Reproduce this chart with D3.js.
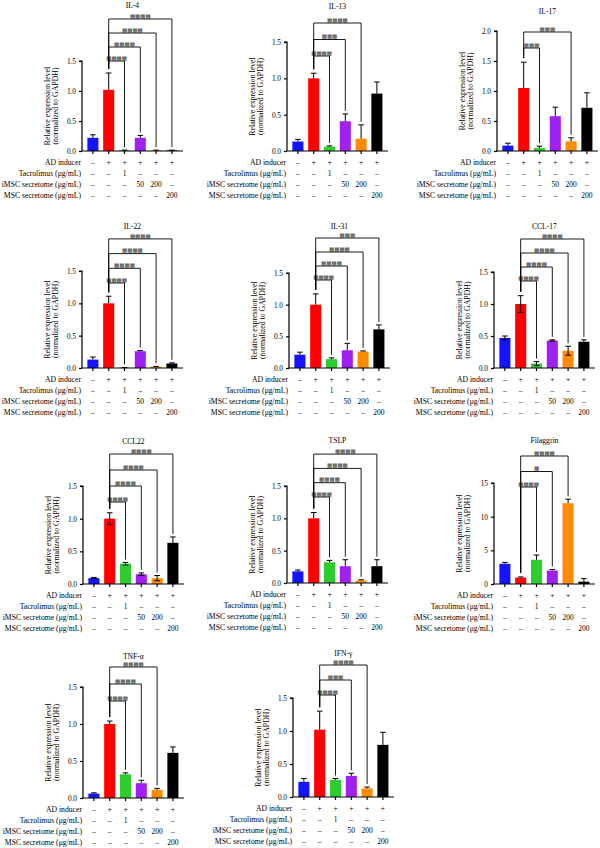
<!DOCTYPE html>
<html>
<head>
<meta charset="utf-8">
<title>AD markers</title>
<script src="https://d3js.org/d3.v7.min.js"></script>
<style>
body { margin:0; background:#fff; }
text { font-family:"Liberation Serif","DejaVu Serif",serif; fill:#000; }
.sig { font-family:"DejaVu Sans",sans-serif; fill:#3a3a3a; }
</style>
</head>
<body>
<script>
// values
var genes = ["IL-4","IL-13","IL-17","IL-22","IL-31","CCL-17","CCL22","TSLP","Filaggrin","TNF-\u03b1","IFN-\u03b3"];
var groups = ["ctrl","AD","tac","imsc50","imsc200","msc200"];
var colors = ["#1414ff","#ff0000","#2ecc2e","#a020f0","#ff8c00","#000000"];

var means = [
  [0.22,1.02,0.01,0.22,0.01,0.01],
  [0.13,1.00,0.06,0.41,0.17,0.79],
  [0.09,1.05,0.05,0.58,0.16,0.72],
  [0.13,1.00,0.005,0.26,0.02,0.07],
  [0.21,1.00,0.14,0.28,0.26,0.61],
  [0.47,1.00,0.07,0.43,0.27,0.41],
  [0.09,1.00,0.31,0.15,0.09,0.63],
  [0.18,1.00,0.32,0.26,0.04,0.26],
  [3.0,0.95,3.6,2.0,12.0,0.35],
  [0.06,1.00,0.32,0.20,0.11,0.61],
  [0.23,1.02,0.26,0.32,0.13,0.79]
];
var errs = [
  [0.05,0.28,0.005,0.04,0.005,0.005],
  [0.03,0.07,0.01,0.10,0.19,0.16],
  [0.04,0.43,0.03,0.15,0.06,0.25],
  [0.04,0.11,0.003,0.01,0.005,0.01],
  [0.04,0.17,0.02,0.11,0.01,0.07],
  [0.03,0.13,0.03,0.01,0.07,0.03],
  [0.01,0.09,0.02,0.02,0.04,0.09],
  [0.02,0.09,0.03,0.10,0.01,0.10],
  [0.2,0.1,0.7,0.15,0.6,0.45],
  [0.01,0.04,0.02,0.04,0.02,0.08],
  [0.05,0.28,0.02,0.04,0.02,0.19]
];
var twoSided = [false,false,false,false,false,true,true,false,false,false,false];
var yMax = [1.5,1.5,2.0,1.5,1.5,1.5,1.5,1.5,15,1.5,1.5];
var yStep = [0.5,0.5,0.5,0.5,0.5,0.5,0.5,0.5,5,0.5,0.5];

// comparisons against AD inducer (group 1)
var sigTargets = [[2,3,4,5],[2,3,4],[2,4],[2,3,4,5],[2,3,4,5],[2,3,4,5],[2,3,4,5],[2,3,4,5],[2,3,4],[2,3,4],[2,3,4]];
var sigStars   = [[4,4,4,4],[4,3,4],[3,3],[4,4,4,4],[4,4,4,3],[4,4,4,4],[4,4,4,4],[4,4,4,4],[4,1,4],[4,4,4],[4,3,4]];

var rowLabels = ["AD inducer","Tacrolimus (\u03bcg/mL)","iMSC secretome (\u03bcg/mL)","MSC secretome (\u03bcg/mL)"];
var rowValues = [
  ["\u2013","+","+","+","+","+"],
  ["\u2013","\u2013","1","\u2013","\u2013","\u2013"],
  ["\u2013","\u2013","\u2013","50","200","\u2013"],
  ["\u2013","\u2013","\u2013","\u2013","\u2013","200"]
];

// panel frames: axis x, pixel of zero, pixel of top tick, title y, first bracket y, bracket spacing
var frames = [
  {ax:82, y0:151, yT:61, ty:5, b0:61, bs:14},
  {ax:287,y0:151, yT:42, ty:6, b0:56, bs:16.5},
  {ax:497,y0:151, yT:31, ty:11,b0:48, bs:16},
  {ax:82, y0:368, yT:271,ty:226,b0:283,bs:14.7},
  {ax:289,y0:368, yT:273,ty:226,b0:280,bs:14},
  {ax:494,y0:368, yT:272,ty:226,b0:281,bs:14},
  {ax:83, y0:584, yT:486,ty:441,b0:502,bs:16},
  {ax:287,y0:583, yT:486,ty:440,b0:497,bs:14.3},
  {ax:494,y0:584, yT:483,ty:440,b0:487,bs:15.5},
  {ax:83, y0:798, yT:687,ty:656,b0:701,bs:17},
  {ax:293,y0:797, yT:698,ty:653,b0:695,bs:15}
];

var width = 600, height = 848;
var svg = d3.select("body").append("svg")
  .attr("width", width)
  .attr("height", height);

svg.append("rect").attr("width", width).attr("height", height).attr("fill", "#fff");

for (var p = 0; p < genes.length; p++) {
  drawPanel(p);
}

function drawPanel(p) {
  var f = frames[p];
  var g = svg.append("g");
  var step = 15.8;
  var x = d3.scaleBand().domain(groups)
    .range([f.ax + 3, f.ax + 3 + 6 * step])
    .paddingInner(0.3).paddingOuter(0.15);
  var y = d3.scaleLinear().domain([0, yMax[p]]).range([f.y0, f.yT]);
  var cx = function(i) { return x(groups[i]) + x.bandwidth() / 2; };

  // bars
  g.selectAll("rect.bar").data(means[p]).enter().append("rect")
    .attr("class", "bar")
    .attr("x", function(d, i) { return x(groups[i]); })
    .attr("width", x.bandwidth())
    .attr("y", function(d) { return y(d); })
    .attr("height", function(d) { return f.y0 - y(d); })
    .attr("fill", function(d, i) { return colors[i]; });

  // error bars
  var cap = 2.8;
  means[p].forEach(function(m, i) {
    var top = y(m + errs[p][i]);
    var bot = twoSided[p] ? y(Math.max(0, m - errs[p][i])) : y(m);
    g.append("line").attr("x1", cx(i)).attr("x2", cx(i)).attr("y1", top).attr("y2", bot)
      .attr("stroke", "#000").attr("stroke-width", 1);
    g.append("line").attr("x1", cx(i) - cap).attr("x2", cx(i) + cap).attr("y1", top).attr("y2", top)
      .attr("stroke", "#000").attr("stroke-width", 1);
    if (twoSided[p]) {
      g.append("line").attr("x1", cx(i) - cap).attr("x2", cx(i) + cap).attr("y1", bot).attr("y2", bot)
        .attr("stroke", "#000").attr("stroke-width", 1);
    }
  });

  // y axis
  var ticks = d3.range(0, yMax[p] + yStep[p] / 2, yStep[p]);
  var yAxis = d3.axisLeft(y).tickValues(ticks).tickSize(3).tickPadding(3)
    .tickFormat(yMax[p] > 5 ? d3.format("d") : d3.format(".1f"));
  var ya = g.append("g").attr("transform", "translate(" + f.ax + ",0)").call(yAxis);
  ya.select(".domain").attr("d", "M-3," + f.yT + "H0V" + f.y0).attr("stroke-width", 1.2);
  ya.selectAll(".tick line").attr("stroke-width", 1.2);
  ya.selectAll("text").style("font-family", "Liberation Serif").style("font-size", "7.3px");

  // x axis
  g.append("line").attr("x1", f.ax - 0.6).attr("x2", f.ax + 101).attr("y1", f.y0).attr("y2", f.y0)
    .attr("stroke", "#000").attr("stroke-width", 1.2);
  g.selectAll("line.xt").data(groups).enter().append("line")
    .attr("x1", function(d, i) { return cx(i); })
    .attr("x2", function(d, i) { return cx(i); })
    .attr("y1", f.y0).attr("y2", f.y0 + 3)
    .attr("stroke", "#000").attr("stroke-width", 1.2);

  // y label
  var ly = (f.y0 + f.yT) / 2;
  g.append("text").attr("transform", "translate(" + (f.ax - 32.5) + "," + ly + ") rotate(-90)")
    .attr("text-anchor", "middle").style("font-size", "7.8px").text("Relative expression level");
  g.append("text").attr("transform", "translate(" + (f.ax - 24.5) + "," + ly + ") rotate(-90)")
    .attr("text-anchor", "middle").style("font-size", "7.8px").text("(normalized to GAPDH)");

  // title
  g.append("text").attr("x", (cx(0) + cx(5)) / 2).attr("y", f.ty)
    .attr("text-anchor", "middle").attr("dominant-baseline", "central")
    .style("font-size", "7.6px").text(genes[p]);

  // treatment table
  var rowDy = [11, 22, 33, 44.5];
  rowLabels.forEach(function(lab, r) {
    var ry = f.y0 + rowDy[r];
    g.append("text").attr("x", f.ax - 1).attr("y", ry).attr("text-anchor", "end")
      .attr("dominant-baseline", "central").style("font-size", "7.7px").text(lab);
    g.selectAll("text.v" + r).data(rowValues[r]).enter().append("text")
      .attr("class", "v" + r)
      .attr("x", function(d, i) { return cx(i); }).attr("y", ry)
      .attr("text-anchor", "middle").attr("dominant-baseline", "central")
      .style("font-size", "7.5px").text(function(d) { return d; });
  });

  // significance brackets
  var redTop = y(means[p][1] + errs[p][1]) - 4;
  sigTargets[p].forEach(function(t, k) {
    var by = f.b0 - k * f.bs;
    var tTop = y(means[p][t] + errs[p][t]) - 3;
    g.append("path")
      .attr("d", "M" + cx(1) + "," + Math.max(redTop, by) + "V" + by + "H" + cx(t) + "V" + Math.max(tTop, by))
      .attr("fill", "none").attr("stroke", "#000").attr("stroke-width", 0.9);
    var stars = d3.range(sigStars[p][k]).map(function() { return "\u25a9"; }).join("");
    g.append("text").attr("class", "sig")
      .attr("x", (cx(1) + cx(t)) / 2).attr("y", by - 1.3)
      .attr("text-anchor", "middle")
      .style("font-size", "5.5px").text(stars);
  });
}
</script>
</body>
</html>
